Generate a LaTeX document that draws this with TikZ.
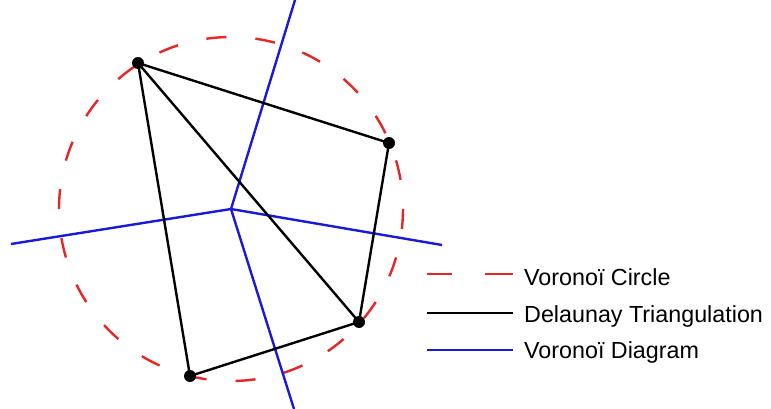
\documentclass[tikz,border=0pt]{standalone}
\usepackage{fontspec}
\setmainfont{Liberation Sans}
\definecolor{vred}{RGB}{228,38,38}
\definecolor{vblue}{RGB}{25,25,215}
\begin{document}
\begin{tikzpicture}[x=1pt,y=-1pt,
  pt/.style={circle,fill=black,inner sep=0pt,minimum size=12pt},
  delaunay/.style={black,line width=2.4pt},
  voronoi/.style={vblue,line width=2.4pt},
  vcircle/.style={vred,line width=2.4pt,dash pattern=on 20pt off 29.12pt},
  legtext/.style={anchor=base west,inner sep=0pt,font=\fontsize{23.3}{28}\selectfont}]
\useasboundingbox (0,0) rectangle (771,409);
% Voronoi circle
\coordinate (V) at (231,209);
\draw[vcircle] (V) circle (172);
% Voronoi diagram
\coordinate (Vt) at (295,0);
\coordinate (Vl) at (11,244);
\coordinate (Vr) at (442,245);
\coordinate (Vb) at (294,409);
\draw[voronoi] (V) -- (Vt);
\draw[voronoi] (V) -- (Vl);
\draw[voronoi] (V) -- (Vr);
\draw[voronoi] (V) -- (Vb);
% sites
\node[pt] (A) at (138,63) {};
\node[pt] (B) at (389,143) {};
\node[pt] (C) at (359,322) {};
\node[pt] (D) at (190,376) {};
% Delaunay triangulation
\draw[delaunay] (A.center) -- (B.center) -- (C.center) -- (D.center) -- (A.center);
\draw[delaunay] (A.center) -- (C.center);
% legend
\coordinate (l1a) at (427,274);
\coordinate (l1b) at (513,274);
\coordinate (l2a) at (427,313);
\coordinate (l2b) at (513,313);
\coordinate (l3a) at (427,350);
\coordinate (l3b) at (513,350);
\draw[vred,line width=2.4pt,dash pattern=on 25pt off 33pt on 28pt] (l1a) -- (l1b);
\draw[delaunay] (l2a) -- (l2b);
\draw[voronoi] (l3a) -- (l3b);
\node[legtext] (t1) at (524,285) {Voronoï Circle};
\node[legtext] (t2) at (524,322) {Delaunay Triangulation};
\node[legtext] (t3) at (524,358) {Voronoï Diagram};
\end{tikzpicture}
\end{document}
